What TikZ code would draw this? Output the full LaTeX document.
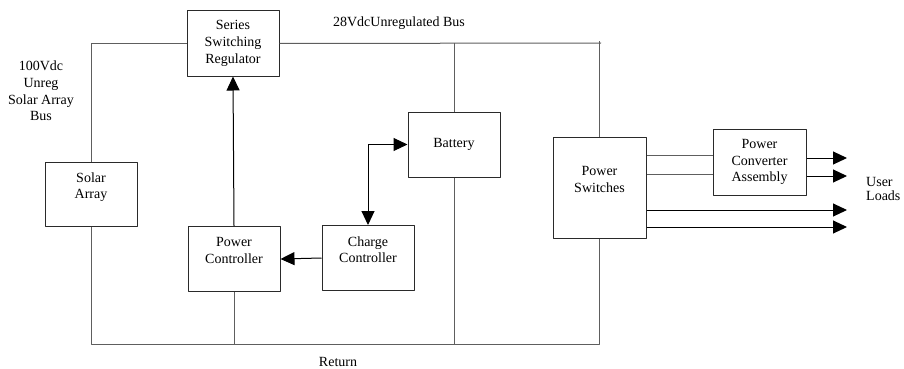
\documentclass[tikz,border=0pt]{standalone}
\usepackage{fontspec}
\setmainfont{Liberation Serif}
\usetikzlibrary{arrows.meta}

\definecolor{wiregray}{HTML}{5E5E5E}
\definecolor{boxedge}{HTML}{2A2A2A}

\begin{document}
\begin{tikzpicture}[
  x=1pt,
  y=-1pt,
  line join=round,
  font=\fontsize{14}{16.7}\selectfont,
  block/.style={draw=boxedge,line width=1pt,align=center,inner sep=2pt},
  wire/.style={draw=wiregray,line width=1pt},
  flow/.style={draw=black,line width=1pt,-{Triangle[length=14pt,width=13pt]}},
  flowboth/.style={draw=black,line width=1pt,{Triangle[length=14pt,width=13pt]}-{Triangle[length=14pt,width=13pt]}}
]
  % Keep the frame of the original drawing.
  \useasboundingbox (0,0) rectangle (904,369);

  % Blocks of the power subsystem.
  \node[block,minimum width=92,minimum height=65] (ssr) at (233,43.5) {Series\\Switching\\Regulator};
  \node[block,minimum width=92,minimum height=64] (solar) at (91,194) {Solar\\Array\\\mbox{}};
  \node[block,minimum width=92,minimum height=65] (pctrl) at (234,259) {Power\\Controller\\\mbox{}};
  \node[block,minimum width=92,minimum height=65] (cctrl) at (368,258) {Charge\\Controller\\\mbox{}};
  \node[block,minimum width=92,minimum height=65] (bat) at (454,144.5) {Battery};
  \node[block,minimum width=93,minimum height=101] (psw) at (599.5,187.5) {Power\\Switches\\\mbox{}};
  \node[block,minimum width=93,minimum height=66] (pca) at (759.5,162) {Power\\Converter\\Assembly};

  % Bus and return labels.
  \node (buslbl) at (399,23) {28VdcUnregulated Bus};
  \node[align=center] (sabus) at (41,91) {100Vdc\\Unreg\\Solar Array\\Bus};
  \node (rtnlbl) at (338,362) {Return};
  \node[anchor=west,align=left,inner sep=0pt,font=\fontsize{14}{14}\selectfont] (loads) at (866,189) {User\\Loads};

  % Free ends of the bus lines and load outputs.
  \coordinate (busend) at (601,43);
  \coordinate (rtnL) at (91,344);
  \coordinate (out) at (847,0);

  % Unregulated buses.
  \draw[wire] (solar.north) |- (ssr.west);
  \draw[wire] (ssr.east) -- (busend);
  \draw[wire] (bat.north) -- (bat.north |- busend);
  \draw[wire] (psw.north) -- ([yshift=2pt]psw.north |- busend);

  % Return line.
  \draw[wire] (solar.south) -- (rtnL) -| (psw.south);
  \draw[wire] (pctrl.south) -- (pctrl.south |- rtnL);
  \draw[wire] (bat.south) -- (bat.south |- rtnL);

  % Control signals.
  \draw[flow] (pctrl.north) -- (ssr.south);
  \draw[flow] (cctrl.west) -- (pctrl.east);
  \draw[flowboth] (cctrl.north) |- (bat.west);

  % Switched outputs.
  \draw[wire] ([yshift=7pt]pca.west) -- ([yshift=7pt]pca.west -| psw.east);
  \draw[wire] ([yshift=-12pt]pca.west) -- ([yshift=-12pt]pca.west -| psw.east);
  \draw[flow] ([yshift=4pt]pca.east) -- ([yshift=4pt]pca.east -| out);
  \draw[flow] ([yshift=-14pt]pca.east) -- ([yshift=-14pt]pca.east -| out);
  \draw[flow] ([yshift=-22.5pt]psw.east) -- ([yshift=-22.5pt]psw.east -| out);
  \draw[flow] ([yshift=-39.5pt]psw.east) -- ([yshift=-39.5pt]psw.east -| out);
\end{tikzpicture}
\end{document}
